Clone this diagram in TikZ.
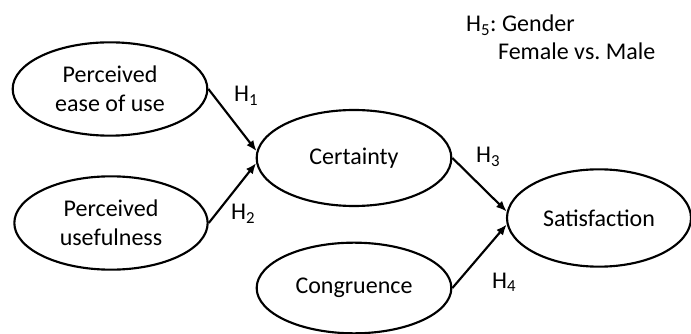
\documentclass[tikz,border=0pt]{standalone}
\usepackage{fontspec}
\setmainfont{Carlito}
\usetikzlibrary{shapes.geometric,arrows.meta}
\begin{document}
\begin{tikzpicture}[x=0.75pt,y=-0.75pt,line width=1.6pt,
  font=\fontsize{18}{22}\selectfont,
  construct/.style={draw,ellipse,inner sep=0pt,align=center},
  path/.style={-{Latex[length=8pt,width=6.5pt]}},
  hyp/.style={anchor=base west,inner sep=0pt}]
\useasboundingbox (0,0) rectangle (691,334);
\node[construct,minimum width=146pt,minimum height=70pt] (ease) at (110,89) {Perceived\\ease of use};
\node[construct,minimum width=145pt,minimum height=70pt] (useful) at (111,223) {Perceived\\usefulness};
\node[construct,minimum width=146pt,minimum height=72pt] (cert) at (354,158) {Certainty};
\node[construct,minimum width=146pt,minimum height=68pt] (cong) at (354,288) {Congruence};
\node[construct,minimum width=138pt,minimum height=73pt] (sat) at (599,218) {Satisfaction};
\draw[path] (ease.east)--(cert.176);
\draw[path] (useful.east)--(cert.183);
\draw[path] (cert.east)--(sat.176);
\draw[path] (cong.east)--(sat.184);
\node[hyp] (h1) at (233,102) {H\textsubscript{1}};
\node[hyp] (h2) at (230,220) {H\textsubscript{2}};
\node[hyp] (h3) at (475,163) {H\textsubscript{3}};
\node[hyp] (h4) at (491,288) {H\textsubscript{4}};
\node[hyp] (h5) at (465,32) {H\textsubscript{5}:~Gender};
\node[hyp] (gender) at (497,60) {Female vs.\ Male};
\end{tikzpicture}
\end{document}
